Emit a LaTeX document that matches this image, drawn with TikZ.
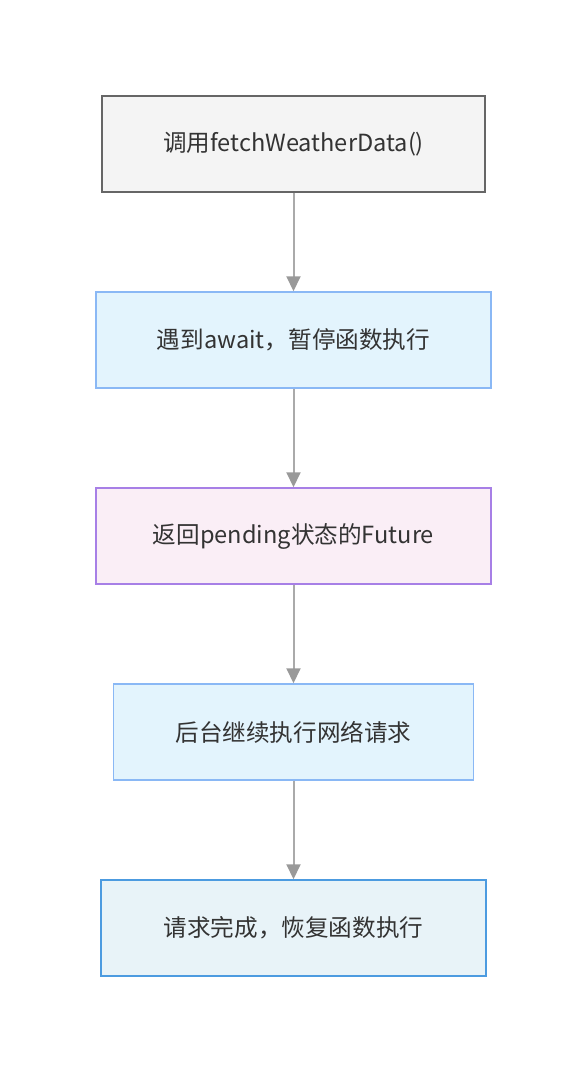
\documentclass[tikz,border=0pt]{standalone}
\usepackage{fontspec}
\setmainfont{Noto Sans CJK SC}
\usetikzlibrary{arrows.meta}
\definecolor{txt}{HTML}{333333}
\definecolor{g1f}{HTML}{F4F4F4}\definecolor{g1d}{HTML}{666666}
\definecolor{b1f}{HTML}{E3F4FD}\definecolor{b1d}{HTML}{8AB8F5}
\definecolor{p1f}{HTML}{FAEEF6}\definecolor{p1d}{HTML}{A77FE6}
\definecolor{b2f}{HTML}{E8F3F8}\definecolor{b2d}{HTML}{4C9BE0}
\definecolor{arr}{HTML}{AAAAAA}\definecolor{arrf}{HTML}{999999}
\tikzset{
  box/.style={draw, line width=1.5pt, minimum height=96pt, inner sep=0pt,
    font=\fontsize{23.6}{28}\selectfont, text=txt},
  flow/.style={draw=arr, line width=2pt, -{Triangle[width=14pt,length=15pt,fill=arrf,color=arrf]}}
}
\begin{document}
\begin{tikzpicture}[x=1pt,y=-1pt]
\useasboundingbox (0,0) rectangle (587,1072);
\node[box, fill=g1f, draw=g1d, minimum width=383pt] (n1) at (293.5,144) {调用fetchWeatherData()};
\node[box, fill=b1f, draw=b1d, minimum width=395pt] (n2) at (293.5,340) {遇到await，暂停函数执行};
\node[box, fill=p1f, draw=p1d, minimum width=395pt] (n3) at (293.5,536) {返回pending状态的Future};
\node[box, fill=b1f, draw=b1d, minimum width=360pt] (n4) at (293.5,732) {后台继续执行网络请求};
\node[box, fill=b2f, draw=b2d, minimum width=385pt] (n5) at (293.5,928) {请求完成，恢复函数执行};
\draw[flow] (n1) -- (n2);
\draw[flow] (n2) -- (n3);
\draw[flow] (n3) -- (n4);
\draw[flow] (n4) -- (n5);
\end{tikzpicture}
\end{document}
